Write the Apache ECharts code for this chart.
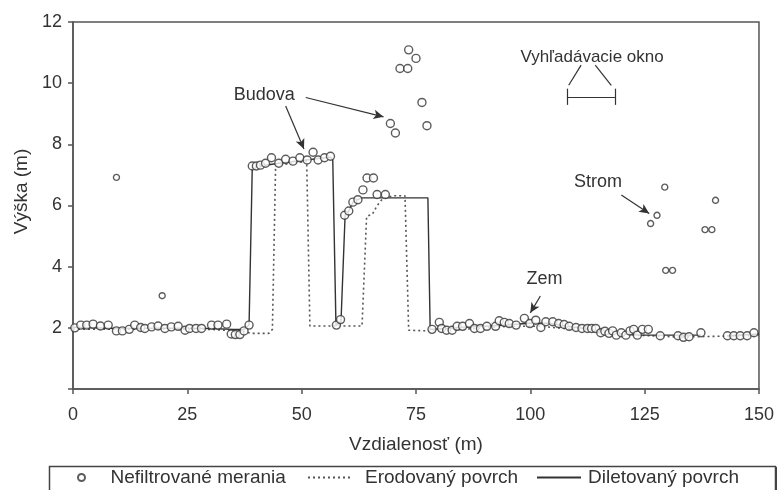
<!DOCTYPE html>
<html>
<head>
<meta charset="utf-8">
<script src="https://cdn.jsdelivr.net/npm/echarts@6/dist/echarts.min.js"></script>
<style>
  html, body { margin: 0; padding: 0; background: #fff; }
  #chart { width: 777px; height: 490px; }
</style>
</head>
<body>
<div id="chart"></div>
<script>
// nefiltrované merania (body pri povrchu a na budovách)
const pointX = [0.4, 1.7, 3.0, 4.4, 6.0, 7.7, 9.5, 10.8, 12.3, 13.5, 14.8, 15.7, 17.2, 18.6, 20.1, 21.5, 23.0, 24.5, 25.5, 26.9, 28.1, 30.3, 31.7, 33.6, 34.6, 35.5, 36.5, 37.4, 38.5,
  39.2, 40.1, 41.0, 42.1, 43.4, 45.0, 46.5, 48.1, 49.6, 51.2, 52.5, 53.6, 55.0, 56.3,
  57.6, 58.5,
  59.4, 60.3, 61.2, 62.3, 63.4, 64.3, 65.7, 66.5, 68.3,
  69.4, 70.5, 71.5, 73.2, 73.4, 75.0, 76.3, 77.4,
  78.5, 80.1, 80.6, 81.7, 82.9, 84.0, 85.2, 86.7, 87.8, 89.1, 90.5, 92.4, 93.2, 94.3, 95.4, 96.9, 98.7, 99.9, 101.2, 102.3, 103.4, 104.9, 106.2, 107.4, 108.5, 110.0, 111.3, 112.5,
  113.4, 114.3, 115.4, 116.3, 117.2, 118.0, 118.8, 119.9, 120.9, 121.8, 122.6, 123.4, 124.5, 125.8, 128.4, 132.3, 133.5, 134.7, 137.3,
  143.1, 144.5, 145.9, 147.4, 148.9];
const pointY = [2.00, 2.09, 2.09, 2.12, 2.06, 2.09, 1.90, 1.90, 1.95, 2.09, 2.01, 1.98, 2.03, 2.06, 1.98, 2.03, 2.05, 1.92, 1.98, 1.98, 1.98, 2.09, 2.09, 2.12, 1.80, 1.78, 1.78, 1.90, 2.09,
  7.29, 7.29, 7.32, 7.38, 7.56, 7.38, 7.51, 7.45, 7.56, 7.49, 7.74, 7.49, 7.56, 7.61,
  2.09, 2.27,
  5.68, 5.82, 6.11, 6.19, 6.51, 6.90, 6.90, 6.36, 6.36,
  8.68, 8.37, 10.48, 10.48, 11.09, 10.81, 9.37, 8.61,
  1.95, 2.18, 1.98, 1.92, 1.92, 2.05, 2.05, 2.14, 1.98, 1.98, 2.05, 2.05, 2.23, 2.18, 2.14, 2.09, 2.31, 2.14, 2.25, 2.01, 2.20, 2.20, 2.14, 2.11, 2.05, 2.01, 1.98, 1.98,
  1.98, 1.98, 1.84, 1.89, 1.82, 1.90, 1.76, 1.84, 1.76, 1.90, 1.95, 1.76, 1.95, 1.95, 1.74, 1.74, 1.69, 1.71, 1.84,
  1.74, 1.74, 1.74, 1.74, 1.84];

// osamotené body (šum, strom)
const outlierX = [9.5, 19.5, 126.3, 127.7, 129.4, 140.5, 129.6, 131.1, 138.2, 139.7];
const outlierY = [6.92, 3.05, 5.41, 5.68, 6.60, 6.17, 3.88, 3.88, 5.21, 5.21];

// dilatovaný povrch (null = prerušenie)
const dilatedX = [0, 10, 20, 30, 35, 37.5, 38.5, 39.2, 45, 50, 56.3, 56.8, 57.5, 58.6, 59.5, 60.3, 61.2, 62.3, 63.2, 77.6, 78.1,
  82, 86, 90, 95, 100, 104, 108, 112, 116, 120, 124, 137.3, 140, 143.1, 150];
const dilatedY = [2.02, 1.98, 1.99, 1.98, 1.95, 1.95, 2.10, 7.25, 7.38, 7.47, 7.58, 7.50, 2.08, 2.20, 5.68, 5.82, 6.10, 6.20, 6.25, 6.25, 1.95,
  1.98, 2.03, 2.05, 2.10, 2.15, 2.15, 2.05, 1.98, 1.88, 1.80, 1.76, 1.76, null, 1.74, 1.80];

// erodovaný povrch
const erodedX = [0, 10, 20, 30, 37.5, 38.8, 42.8, 43.6, 44.3, 48, 51.1, 51.8, 63.2, 64.2, 65.5, 66.5, 67.7, 70, 72.6, 73.4, 78,
  85, 95, 102, 110, 118, 125, 132, 140, 150];
const erodedY = [1.96, 1.95, 1.96, 1.95, 1.88, 1.82, 1.82, 1.95, 7.30, 7.38, 7.45, 2.06, 2.06, 5.64, 5.72, 6.00, 6.22, 6.32, 6.32, 1.92, 1.90,
  1.95, 2.05, 2.05, 1.95, 1.78, 1.75, 1.70, 1.72, 1.75];

const FONT = 'Liberation Sans, Arial, sans-serif';
const INK = '#333';

function pairs(xs, ys) {
  return xs.map((x, i) => [x, ys[i] === null ? '-' : ys[i]]);
}

function legendAt(left, name, gap, hideSymbol) {
  return {
    left: left, top: 468, padding: 0,
    itemWidth: 44, itemHeight: 7,
    textStyle: { fontSize: 19, color: INK, fontFamily: FONT, padding: [0, 0, 0, gap] },
    data: [hideSymbol ? { name: name, itemStyle: { opacity: 0 } } : { name: name }]
  };
}

const chart = echarts.init(document.getElementById('chart'));

const option = {
  animation: false,
  textStyle: { fontFamily: FONT, color: INK },
  grid: {
    left: 73, top: 22, right: 17, bottom: 101,
    show: true, borderColor: '#555', borderWidth: 1.5
  },
  xAxis: {
    type: 'value', min: 0, max: 150, interval: 25,
    name: 'Vzdialenosť (m)', nameLocation: 'middle', nameGap: 46,
    nameTextStyle: { fontSize: 19, color: INK, fontFamily: FONT },
    axisLine: { lineStyle: { color: '#555', width: 1.5 } },
    axisTick: { show: true, length: 5, lineStyle: { color: '#555', width: 1.5 } },
    axisLabel: { fontSize: 18, color: INK, margin: 17, fontFamily: FONT },
    splitLine: { show: false }
  },
  yAxis: {
    type: 'value', min: 0, max: 12, interval: 2,
    name: 'Výška (m)', nameLocation: 'middle', nameGap: 41,
    nameTextStyle: { fontSize: 19, color: INK, fontFamily: FONT, padding: [0, 0, 0, 28] },
    axisLine: { show: true, lineStyle: { color: '#555', width: 1.5 } },
    axisTick: { show: true, length: 5, lineStyle: { color: '#555', width: 1.5 } },
    axisLabel: { fontSize: 18, color: INK, margin: 11, fontFamily: FONT,
      formatter: v => (v === 0 ? '' : v) },
    splitLine: { show: false }
  },
  legend: [
    legendAt(77, 'Nefiltrované merania', 2, false),
    legendAt(307, 'Erodovaný povrch', 8, true),
    legendAt(536, 'Diletovaný povrch', 2, true)
  ],
  graphic: [
    { type: 'rect', left: 47, top: 464, silent: true,
      shape: { width: 726, height: 40 },
      style: { fill: 'none', stroke: '#444', lineWidth: 1.5 } },
    { type: 'line', silent: true,
      shape: { x1: 776, y1: 467, x2: 776, y2: 490 },
      style: { stroke: '#444', lineWidth: 2 } }
  ],
  series: [
    {
      name: 'Erodovaný povrch', type: 'line', z: 2,
      data: pairs(erodedX, erodedY),
      symbol: 'none',
      itemStyle: { color: 'transparent' },
      lineStyle: { color: '#555', width: 1.6, type: [2, 3] }
    },
    {
      name: 'Diletovaný povrch', type: 'line', z: 3,
      data: pairs(dilatedX, dilatedY),
      symbol: 'none', connectNulls: false,
      itemStyle: { color: 'transparent' },
      lineStyle: { color: INK, width: 1.4 }
    },
    {
      name: 'Nefiltrované merania', type: 'scatter', z: 4,
      data: pairs(pointX, pointY),
      symbol: 'circle', symbolSize: 8,
      itemStyle: { color: '#fff', borderColor: '#333', borderWidth: 1.4 }
    },
    {
      name: 'Nefiltrované merania', type: 'scatter', z: 4,
      data: pairs(outlierX, outlierY),
      symbol: 'circle', symbolSize: 6,
      itemStyle: { color: '#fff', borderColor: '#333', borderWidth: 1.4 }
    },
    {
      // šípky a popisy
      name: 'popisy', type: 'line', data: [], z: 5,
      markLine: {
        silent: true, animation: false,
        symbol: ['none', 'arrow'], symbolSize: [7, 10],
        label: { show: false },
        lineStyle: { color: INK, width: 1.2, type: 'solid' },
        data: [
          [{ coord: [46.5, 9.25] }, { coord: [50.5, 7.85] }],
          [{ coord: [50.9, 9.53] }, { coord: [67.9, 8.90] }],
          [{ coord: [119.9, 6.34] }, { coord: [126.0, 5.74] }],
          [{ coord: [102.2, 3.04] }, { coord: [100.0, 2.49] }]
        ]
      },
      markPoint: {
        silent: true, symbol: 'circle', symbolSize: 0,
        label: { show: true, position: 'inside', formatter: '{b}', color: INK, fontFamily: FONT, fontSize: 18 },
        data: [
          { name: 'Budova', coord: [41.8, 9.61] },
          { name: 'Strom', coord: [114.8, 6.77] },
          { name: 'Zem', coord: [103.1, 3.58] },
          { name: 'Vyhľadávacie okno', coord: [113.5, 10.86], label: { fontSize: 17 } }
        ]
      }
    },
    {
      // vyhľadávacie okno
      name: 'okno', type: 'line', data: [], z: 5,
      markLine: {
        silent: true, animation: false,
        symbol: 'none',
        label: { show: false },
        lineStyle: { color: INK, width: 1.2, type: 'solid' },
        data: [
          [{ coord: [108.0, 9.55] }, { coord: [118.5, 9.55] }],
          [{ coord: [108.0, 9.29] }, { coord: [108.0, 9.82] }],
          [{ coord: [118.5, 9.29] }, { coord: [118.5, 9.82] }],
          [{ coord: [111.1, 10.59] }, { coord: [108.4, 9.93] }],
          [{ coord: [114.2, 10.59] }, { coord: [117.7, 9.93] }]
        ]
      }
    }
  ]
};

chart.setOption(option);
</script>
</body>
</html>
